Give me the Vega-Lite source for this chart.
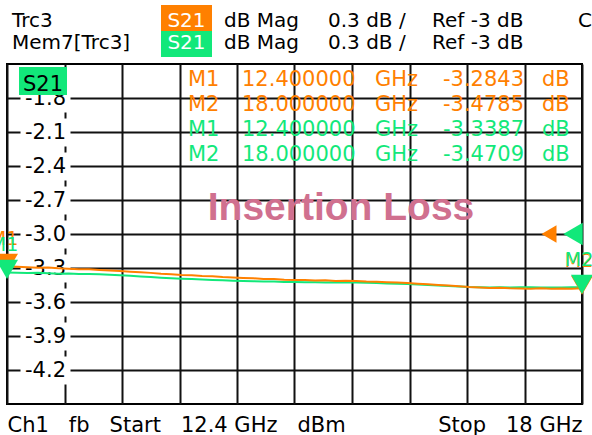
{
  "$schema": "https://vega.github.io/schema/vega-lite/v6.json",
  "width": 575,
  "height": 340,
  "autosize": {"type": "none"},
  "padding": {"left": 7, "top": 64, "right": 10, "bottom": 31},
  "background": "white",
  "config": {
    "view": {"stroke": "#000", "strokeWidth": 2, "fill": "white"},
    "font": "DejaVu Sans",
    "legend": {"disable": true},
    "locale": {"number": {"decimal": ".", "thousands": ",", "grouping": [3], "currency": ["$", ""], "minus": "-"}}
  },
  "datasets": {
    "traces": [
      {"trace": "Mem7[Trc3]", "freq": 12.4, "val": -3.339},
      {"trace": "Mem7[Trc3]", "freq": 12.5, "val": -3.341},
      {"trace": "Mem7[Trc3]", "freq": 12.6, "val": -3.345},
      {"trace": "Mem7[Trc3]", "freq": 12.7, "val": -3.343},
      {"trace": "Mem7[Trc3]", "freq": 12.8, "val": -3.347},
      {"trace": "Mem7[Trc3]", "freq": 12.9, "val": -3.350},
      {"trace": "Mem7[Trc3]", "freq": 13.0, "val": -3.349},
      {"trace": "Mem7[Trc3]", "freq": 13.1, "val": -3.353},
      {"trace": "Mem7[Trc3]", "freq": 13.2, "val": -3.352},
      {"trace": "Mem7[Trc3]", "freq": 13.3, "val": -3.355},
      {"trace": "Mem7[Trc3]", "freq": 13.4, "val": -3.360},
      {"trace": "Mem7[Trc3]", "freq": 13.5, "val": -3.364},
      {"trace": "Mem7[Trc3]", "freq": 13.6, "val": -3.368},
      {"trace": "Mem7[Trc3]", "freq": 13.7, "val": -3.374},
      {"trace": "Mem7[Trc3]", "freq": 13.8, "val": -3.379},
      {"trace": "Mem7[Trc3]", "freq": 13.9, "val": -3.385},
      {"trace": "Mem7[Trc3]", "freq": 14.0, "val": -3.390},
      {"trace": "Mem7[Trc3]", "freq": 14.1, "val": -3.395},
      {"trace": "Mem7[Trc3]", "freq": 14.2, "val": -3.398},
      {"trace": "Mem7[Trc3]", "freq": 14.3, "val": -3.402},
      {"trace": "Mem7[Trc3]", "freq": 14.4, "val": -3.405},
      {"trace": "Mem7[Trc3]", "freq": 14.5, "val": -3.409},
      {"trace": "Mem7[Trc3]", "freq": 14.6, "val": -3.412},
      {"trace": "Mem7[Trc3]", "freq": 14.7, "val": -3.415},
      {"trace": "Mem7[Trc3]", "freq": 14.8, "val": -3.417},
      {"trace": "Mem7[Trc3]", "freq": 14.9, "val": -3.419},
      {"trace": "Mem7[Trc3]", "freq": 15.0, "val": -3.420},
      {"trace": "Mem7[Trc3]", "freq": 15.1, "val": -3.423},
      {"trace": "Mem7[Trc3]", "freq": 15.2, "val": -3.424},
      {"trace": "Mem7[Trc3]", "freq": 15.3, "val": -3.426},
      {"trace": "Mem7[Trc3]", "freq": 15.4, "val": -3.425},
      {"trace": "Mem7[Trc3]", "freq": 15.5, "val": -3.427},
      {"trace": "Mem7[Trc3]", "freq": 15.6, "val": -3.426},
      {"trace": "Mem7[Trc3]", "freq": 15.7, "val": -3.429},
      {"trace": "Mem7[Trc3]", "freq": 15.8, "val": -3.428},
      {"trace": "Mem7[Trc3]", "freq": 15.9, "val": -3.431},
      {"trace": "Mem7[Trc3]", "freq": 16.0, "val": -3.433},
      {"trace": "Mem7[Trc3]", "freq": 16.1, "val": -3.436},
      {"trace": "Mem7[Trc3]", "freq": 16.2, "val": -3.439},
      {"trace": "Mem7[Trc3]", "freq": 16.3, "val": -3.442},
      {"trace": "Mem7[Trc3]", "freq": 16.4, "val": -3.446},
      {"trace": "Mem7[Trc3]", "freq": 16.5, "val": -3.450},
      {"trace": "Mem7[Trc3]", "freq": 16.6, "val": -3.454},
      {"trace": "Mem7[Trc3]", "freq": 16.7, "val": -3.459},
      {"trace": "Mem7[Trc3]", "freq": 16.8, "val": -3.464},
      {"trace": "Mem7[Trc3]", "freq": 16.9, "val": -3.468},
      {"trace": "Mem7[Trc3]", "freq": 17.0, "val": -3.469},
      {"trace": "Mem7[Trc3]", "freq": 17.1, "val": -3.471},
      {"trace": "Mem7[Trc3]", "freq": 17.2, "val": -3.469},
      {"trace": "Mem7[Trc3]", "freq": 17.3, "val": -3.472},
      {"trace": "Mem7[Trc3]", "freq": 17.4, "val": -3.470},
      {"trace": "Mem7[Trc3]", "freq": 17.5, "val": -3.470},
      {"trace": "Mem7[Trc3]", "freq": 17.6, "val": -3.472},
      {"trace": "Mem7[Trc3]", "freq": 17.7, "val": -3.471},
      {"trace": "Mem7[Trc3]", "freq": 17.8, "val": -3.473},
      {"trace": "Mem7[Trc3]", "freq": 17.9, "val": -3.470},
      {"trace": "Mem7[Trc3]", "freq": 18.0, "val": -3.4709},
      {"trace": "Trc3", "freq": 12.4, "val": -3.2843},
      {"trace": "Trc3", "freq": 12.5, "val": -3.290},
      {"trace": "Trc3", "freq": 12.6, "val": -3.294},
      {"trace": "Trc3", "freq": 12.7, "val": -3.298},
      {"trace": "Trc3", "freq": 12.8, "val": -3.296},
      {"trace": "Trc3", "freq": 12.9, "val": -3.303},
      {"trace": "Trc3", "freq": 13.0, "val": -3.306},
      {"trace": "Trc3", "freq": 13.1, "val": -3.310},
      {"trace": "Trc3", "freq": 13.2, "val": -3.312},
      {"trace": "Trc3", "freq": 13.3, "val": -3.318},
      {"trace": "Trc3", "freq": 13.4, "val": -3.322},
      {"trace": "Trc3", "freq": 13.5, "val": -3.326},
      {"trace": "Trc3", "freq": 13.6, "val": -3.333},
      {"trace": "Trc3", "freq": 13.7, "val": -3.338},
      {"trace": "Trc3", "freq": 13.8, "val": -3.343},
      {"trace": "Trc3", "freq": 13.9, "val": -3.350},
      {"trace": "Trc3", "freq": 14.0, "val": -3.355},
      {"trace": "Trc3", "freq": 14.1, "val": -3.362},
      {"trace": "Trc3", "freq": 14.2, "val": -3.364},
      {"trace": "Trc3", "freq": 14.3, "val": -3.370},
      {"trace": "Trc3", "freq": 14.4, "val": -3.372},
      {"trace": "Trc3", "freq": 14.5, "val": -3.379},
      {"trace": "Trc3", "freq": 14.6, "val": -3.383},
      {"trace": "Trc3", "freq": 14.7, "val": -3.388},
      {"trace": "Trc3", "freq": 14.8, "val": -3.391},
      {"trace": "Trc3", "freq": 14.9, "val": -3.396},
      {"trace": "Trc3", "freq": 15.0, "val": -3.398},
      {"trace": "Trc3", "freq": 15.1, "val": -3.404},
      {"trace": "Trc3", "freq": 15.2, "val": -3.406},
      {"trace": "Trc3", "freq": 15.3, "val": -3.405},
      {"trace": "Trc3", "freq": 15.4, "val": -3.410},
      {"trace": "Trc3", "freq": 15.5, "val": -3.409},
      {"trace": "Trc3", "freq": 15.6, "val": -3.414},
      {"trace": "Trc3", "freq": 15.7, "val": -3.412},
      {"trace": "Trc3", "freq": 15.8, "val": -3.415},
      {"trace": "Trc3", "freq": 15.9, "val": -3.419},
      {"trace": "Trc3", "freq": 16.0, "val": -3.421},
      {"trace": "Trc3", "freq": 16.1, "val": -3.425},
      {"trace": "Trc3", "freq": 16.2, "val": -3.428},
      {"trace": "Trc3", "freq": 16.3, "val": -3.432},
      {"trace": "Trc3", "freq": 16.4, "val": -3.438},
      {"trace": "Trc3", "freq": 16.5, "val": -3.443},
      {"trace": "Trc3", "freq": 16.6, "val": -3.450},
      {"trace": "Trc3", "freq": 16.7, "val": -3.455},
      {"trace": "Trc3", "freq": 16.8, "val": -3.462},
      {"trace": "Trc3", "freq": 16.9, "val": -3.468},
      {"trace": "Trc3", "freq": 17.0, "val": -3.471},
      {"trace": "Trc3", "freq": 17.1, "val": -3.476},
      {"trace": "Trc3", "freq": 17.2, "val": -3.474},
      {"trace": "Trc3", "freq": 17.3, "val": -3.479},
      {"trace": "Trc3", "freq": 17.4, "val": -3.481},
      {"trace": "Trc3", "freq": 17.5, "val": -3.482},
      {"trace": "Trc3", "freq": 17.6, "val": -3.479},
      {"trace": "Trc3", "freq": 17.7, "val": -3.483},
      {"trace": "Trc3", "freq": 17.8, "val": -3.480},
      {"trace": "Trc3", "freq": 17.9, "val": -3.482},
      {"trace": "Trc3", "freq": 18.0, "val": -3.4785}
    ],
    "markers": [
      {"trace": "Trc3", "marker": "M1", "freq": 12.4, "val": -3.2843, "row": 1},
      {"trace": "Trc3", "marker": "M2", "freq": 18.0, "val": -3.4785, "row": 2},
      {"trace": "Mem7[Trc3]", "marker": "M1", "freq": 12.4, "val": -3.3387, "row": 3},
      {"trace": "Mem7[Trc3]", "marker": "M2", "freq": 18.0, "val": -3.4709, "row": 4}
    ],
    "header": [
      {"trace": "Trc3", "param": "S21", "format": "dB Mag", "scale": "0.3 dB /", "ref": "Ref -3 dB"},
      {"trace": "Mem7[Trc3]", "param": "S21", "format": "dB Mag", "scale": "0.3 dB /", "ref": "Ref -3 dB"}
    ]
  },
  "resolve": {"scale": {"y": "independent"}},
  "layer": [
    {
      "layer": [
        {
          "data": {"name": "traces"},
          "mark": {"type": "line", "strokeWidth": 2, "interpolate": "linear"},
          "encoding": {
            "x": {
              "field": "freq",
              "type": "quantitative",
              "scale": {"domain": [12.4, 18], "nice": false, "zero": false},
              "axis": {
                "title": null,
                "values": [12.4, 12.96, 13.52, 14.08, 14.64, 15.2, 15.76, 16.32, 16.88, 17.44, 18],
                "grid": true,
                "gridColor": "#111",
                "gridWidth": 2,
                "gridOpacity": 1,
                "domain": false,
                "ticks": false,
                "tickSize": 0,
                "labelExpr": "datum.value == 12.4 ? 'Ch1 \u00a0 fb \u00a0 Start \u00a0 12.4 GHz \u00a0 dBm' : (datum.value == 18 ? 'Stop \u00a0 18 GHz' : '')",
                "labelFlush": true,
                "labelOverlap": false,
                "labelBound": false,
                "labelLimit": 500,
                "labelPadding": 10,
                "labelFont": "DejaVu Sans",
                "labelFontSize": 21,
                "labelColor": "#000"
              }
            },
            "y": {
              "field": "val",
              "type": "quantitative",
              "scale": {"domain": [-4.5, -1.5], "nice": false, "zero": false},
              "axis": {
                "title": null,
                "values": [-4.2, -3.9, -3.6, -3.3, -3.0, -2.7, -2.4, -2.1, -1.8],
                "format": ".1f",
                "grid": true,
                "gridColor": "#111",
                "gridWidth": 2,
                "gridOpacity": 1,
                "domain": false,
                "ticks": true,
                "tickColor": "#ffffff",
                "tickOpacity": 1,
                "tickSize": 50,
                "tickWidth": 28,
                "offset": -63,
                "labelAlign": "center",
                "labelPadding": -25,
                "labelFont": "DejaVu Sans",
                "labelFontSize": 21,
                "labelColor": "#000",
                "labelOverlap": false,
                "labelBound": false,
                "labelFlush": false
              }
            },
            "color": {
              "field": "trace",
              "type": "nominal",
              "scale": {"domain": ["Trc3", "Mem7[Trc3]"], "range": ["#ff8000", "#12e87a"]}
            }
          }
        },
        {
          "data": {"values": [{"param": "S21"}]},
          "layer": [
            {
              "mark": {"type": "rect", "color": "#12e87a"},
              "encoding": {
                "x": {"datum": 12.5169},
                "x2": {"datum": 12.9843},
                "y": {"datum": -1.5265},
                "y2": {"datum": -1.7735}
              }
            },
            {
              "mark": {"type": "text", "align": "center", "baseline": "alphabetic", "fontSize": 21, "color": "#000"},
              "encoding": {
                "x": {"datum": 12.7506},
                "y": {"datum": -1.7382},
                "text": {"field": "param"}
              }
            }
          ]
        },
        {
          "data": {"values": [{"ref": -3}]},
          "layer": [
            {
              "mark": {"type": "point", "shape": "triangle-left", "filled": true, "size": 300, "opacity": 1, "color": "#ff8000"},
              "encoding": {"x": {"datum": 17.6786}, "y": {"field": "ref", "type": "quantitative"}}
            },
            {
              "mark": {"type": "point", "shape": "triangle-left", "filled": true, "size": 500, "opacity": 1, "color": "#12e87a"},
              "encoding": {"x": {"datum": 17.9123}, "y": {"field": "ref", "type": "quantitative"}}
            }
          ]
        },
        {
          "data": {"name": "markers"},
          "layer": [
            {
              "mark": {"type": "point", "shape": "triangle-down", "filled": true, "size": 484, "opacity": 1, "yOffset": -3},
              "encoding": {
                "x": {"field": "freq", "type": "quantitative"},
                "y": {"field": "val", "type": "quantitative"},
                "color": {"field": "trace", "type": "nominal"}
              }
            },
            {
              "mark": {"type": "text", "align": "center", "baseline": "middle", "fontSize": 19, "yOffset": -27, "dx": -3},
              "encoding": {
                "x": {"field": "freq", "type": "quantitative"},
                "y": {"field": "val", "type": "quantitative"},
                "text": {"field": "marker"},
                "color": {"field": "trace", "type": "nominal"}
              }
            }
          ]
        },
        {
          "data": {"values": [{"label": "Insertion Loss"}]},
          "mark": {"type": "text", "align": "center", "baseline": "alphabetic", "font": "Liberation Sans", "fontWeight": "bold", "fontSize": 39, "color": "#d0708f"},
          "encoding": {
            "x": {"datum": 15.6529},
            "y": {"datum": -2.8765},
            "text": {"field": "label"}
          }
        },
        {
          "data": {"name": "header"},
          "transform": [{"filter": "datum.trace == 'Trc3'"}],
          "layer": [
            {
              "mark": {"type": "rect", "color": "#ff8000"},
              "encoding": {"x": {"datum": 13.8998}, "x2": {"datum": 14.3965}, "y": {"datum": -0.9794}, "y2": {"datum": -1.2088}}
            },
            {
              "mark": {"type": "text", "align": "center", "baseline": "alphabetic", "fontSize": 20, "color": "#ffffff"},
              "encoding": {"x": {"datum": 14.1482}, "y": {"datum": -1.1735}, "text": {"field": "param"}}
            },
            {
              "mark": {"type": "text", "align": "left", "baseline": "alphabetic", "fontSize": 20, "color": "#000"},
              "encoding": {"x": {"datum": 12.4487}, "y": {"datum": -1.1735}, "text": {"field": "trace"}}
            },
            {
              "mark": {"type": "text", "align": "left", "baseline": "alphabetic", "fontSize": 20, "color": "#000"},
              "encoding": {"x": {"datum": 14.5134}, "y": {"datum": -1.1735}, "text": {"field": "format"}}
            },
            {
              "mark": {"type": "text", "align": "left", "baseline": "alphabetic", "fontSize": 20, "color": "#000"},
              "encoding": {"x": {"datum": 15.5263}, "y": {"datum": -1.1735}, "text": {"field": "scale"}}
            },
            {
              "mark": {"type": "text", "align": "left", "baseline": "alphabetic", "fontSize": 20, "color": "#000"},
              "encoding": {"x": {"datum": 16.5391}, "y": {"datum": -1.1735}, "text": {"field": "ref"}}
            },
            {
              "mark": {"type": "text", "align": "left", "baseline": "alphabetic", "fontSize": 20, "color": "#000", "text": "C"},
              "encoding": {"x": {"datum": 17.961}, "y": {"datum": -1.1735}}
            }
          ]
        },
        {
          "data": {"name": "header"},
          "transform": [{"filter": "datum.trace != 'Trc3'"}],
          "layer": [
            {
              "mark": {"type": "rect", "color": "#12e87a"},
              "encoding": {"x": {"datum": 13.8998}, "x2": {"datum": 14.3965}, "y": {"datum": -1.2088}, "y2": {"datum": -1.4382}}
            },
            {
              "mark": {"type": "text", "align": "center", "baseline": "alphabetic", "fontSize": 20, "color": "#ffffff"},
              "encoding": {"x": {"datum": 14.1482}, "y": {"datum": -1.3676}, "text": {"field": "param"}}
            },
            {
              "mark": {"type": "text", "align": "left", "baseline": "alphabetic", "fontSize": 20, "color": "#000"},
              "encoding": {"x": {"datum": 12.4487}, "y": {"datum": -1.3676}, "text": {"field": "trace"}}
            },
            {
              "mark": {"type": "text", "align": "left", "baseline": "alphabetic", "fontSize": 20, "color": "#000"},
              "encoding": {"x": {"datum": 14.5134}, "y": {"datum": -1.3676}, "text": {"field": "format"}}
            },
            {
              "mark": {"type": "text", "align": "left", "baseline": "alphabetic", "fontSize": 20, "color": "#000"},
              "encoding": {"x": {"datum": 15.5263}, "y": {"datum": -1.3676}, "text": {"field": "scale"}}
            },
            {
              "mark": {"type": "text", "align": "left", "baseline": "alphabetic", "fontSize": 20, "color": "#000"},
              "encoding": {"x": {"datum": 16.5391}, "y": {"datum": -1.3676}, "text": {"field": "ref"}}
            }
          ]
        }
      ]
    },
    {
      "data": {"name": "markers"},
      "encoding": {
        "y": {"field": "row", "type": "quantitative", "scale": {"domain": [1, 4], "range": [16, 91]}, "axis": null},
        "color": {"field": "trace", "type": "nominal"}
      },
      "layer": [
        {
          "mark": {"type": "text", "align": "left", "baseline": "middle", "fontSize": 21},
          "encoding": {"x": {"datum": 14.1628}, "text": {"field": "marker"}}
        },
        {
          "mark": {"type": "text", "align": "left", "baseline": "middle", "fontSize": 21},
          "encoding": {"x": {"datum": 14.6887}, "text": {"field": "freq", "type": "quantitative", "format": ".6f"}}
        },
        {
          "mark": {"type": "text", "align": "left", "baseline": "middle", "fontSize": 21, "text": "GHz"},
          "encoding": {"x": {"datum": 15.9835}}
        },
        {
          "mark": {"type": "text", "align": "left", "baseline": "middle", "fontSize": 21},
          "encoding": {"x": {"datum": 16.6463}, "text": {"field": "val", "type": "quantitative", "format": ".4f"}}
        },
        {
          "mark": {"type": "text", "align": "left", "baseline": "middle", "fontSize": 21, "text": "dB"},
          "encoding": {"x": {"datum": 17.6104}}
        }
      ]
    }
  ]
}
